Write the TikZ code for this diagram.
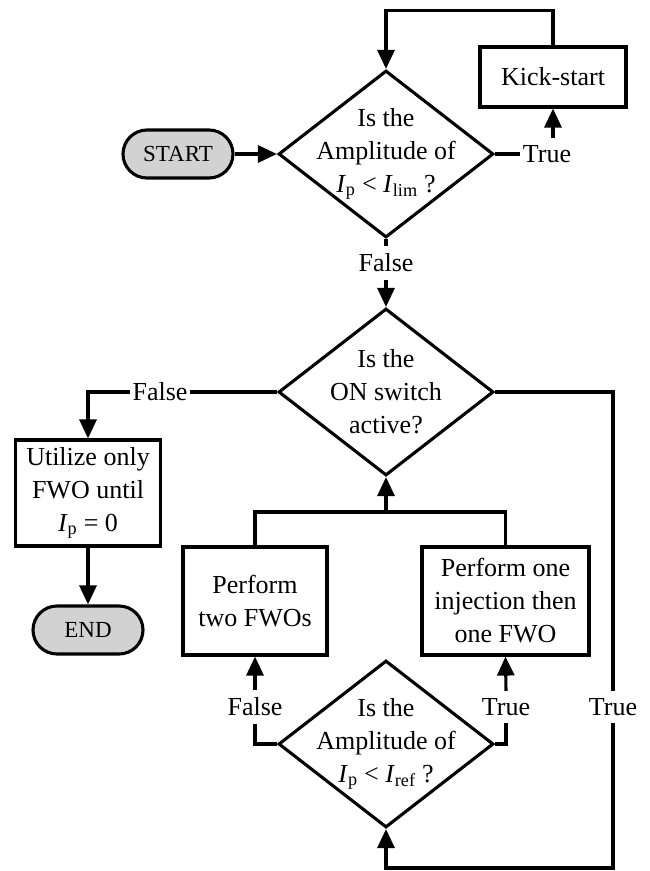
\documentclass[tikz,border=0pt]{standalone}
\usepackage{fontspec}
\setmainfont{Liberation Serif}
\usetikzlibrary{arrows.meta,shapes.geometric}
\newcommand\myIp{\textit{I}\textsubscript{p}}
\begin{document}
\begin{tikzpicture}[x=1pt,y=-1pt,line width=3.1pt,
  every node/.style={font=\fontsize{26}{33}\selectfont},
  dia/.style={draw,diamond,minimum width=215pt,minimum height=167pt,inner sep=0pt},
  dtext/.style={align=center,inner sep=0pt},
  box/.style={draw,rectangle,inner sep=0pt,align=center},
  term/.style={draw,rectangle,rounded corners=24pt,minimum width=110pt,minimum height=48pt,
    fill=gray!35,font=\fontsize{23}{28}\selectfont},
  lbl/.style={inner xsep=1pt,inner ysep=6pt},
  arr/.style={-{Triangle[length=19pt,width=17pt]}}]
\useasboundingbox (0,0) rectangle (649,871);
% nodes
\node[term] (start) at (178,154) {START};
\node[dia] (d1) at (386,154) {};
\node[dtext] at (d1) {Is the\\Amplitude of\\\myIp{} < \textit{I}\textsubscript{lim} ?};
\node[box,minimum width=146pt,minimum height=60pt] (kick) at (553,77) {Kick-start};
\node[lbl] (t1) at (547,154) {True};
\node[lbl] (f1) at (386,263) {False};
\node[dia] (d2) at (386,392) {};
\node[dtext] at (d2) {Is the\\ON switch\\active?};
\node[lbl] (f2) at (160,392) {False};
\node[box,minimum width=145pt,minimum height=106pt] (util) at (88,493) {Utilize only\\FWO until\\\myIp{} = 0};
\node[term] (end) at (88,630) {END};
\node[box,minimum width=144pt,minimum height=108pt] (two) at (255,601) {Perform\\two FWOs};
\node[box,minimum width=167pt,minimum height=108pt] (one) at (505.5,601) {Perform one\\injection then\\one FWO};
\node[dia] (d3) at (386,744) {};
\node[dtext] at (d3) {Is the\\Amplitude of\\\myIp{} < \textit{I}\textsubscript{ref} ?};
\node[lbl] (f3) at (255,707) {False};
\node[lbl] (t3) at (506,707) {True};
\node[lbl] (t4) at (613,707) {True};
\coordinate (j) at (386,512);
\coordinate (b3) at (386,868);
% connectors
\draw[arr] (start) -- (d1.west);
\draw (d1.east) -- (d1.east -| t1.west);
\draw[arr] (kick.south |- t1.north) -- (kick.south);
\draw[arr] (kick.north) -- ++(0,-35) -| (d1.north);
\draw (d1.south) -- (f1.north);
\draw[arr] (f1.south) -- (d2.north);
\draw (d2.west) -- (d2.west -| f2.east);
\draw[arr] (f2.west) -| (util.north);
\draw[arr] (util.south) -- (end.north);
\draw (two.north) |- (j) -| (one.north);
\draw[arr] (j) -- (d2.south);
\draw (d3.west) -| (f3.south);
\draw[arr] (f3.north) -- (two.south);
\draw (d3.east) -| (t3.south);
\draw[arr] (t3.north) -- (one.south);
\draw (d2.east) -| (t4.north);
\draw[arr] (t4.south) |- (b3) -- (d3.south);
\end{tikzpicture}
\end{document}
